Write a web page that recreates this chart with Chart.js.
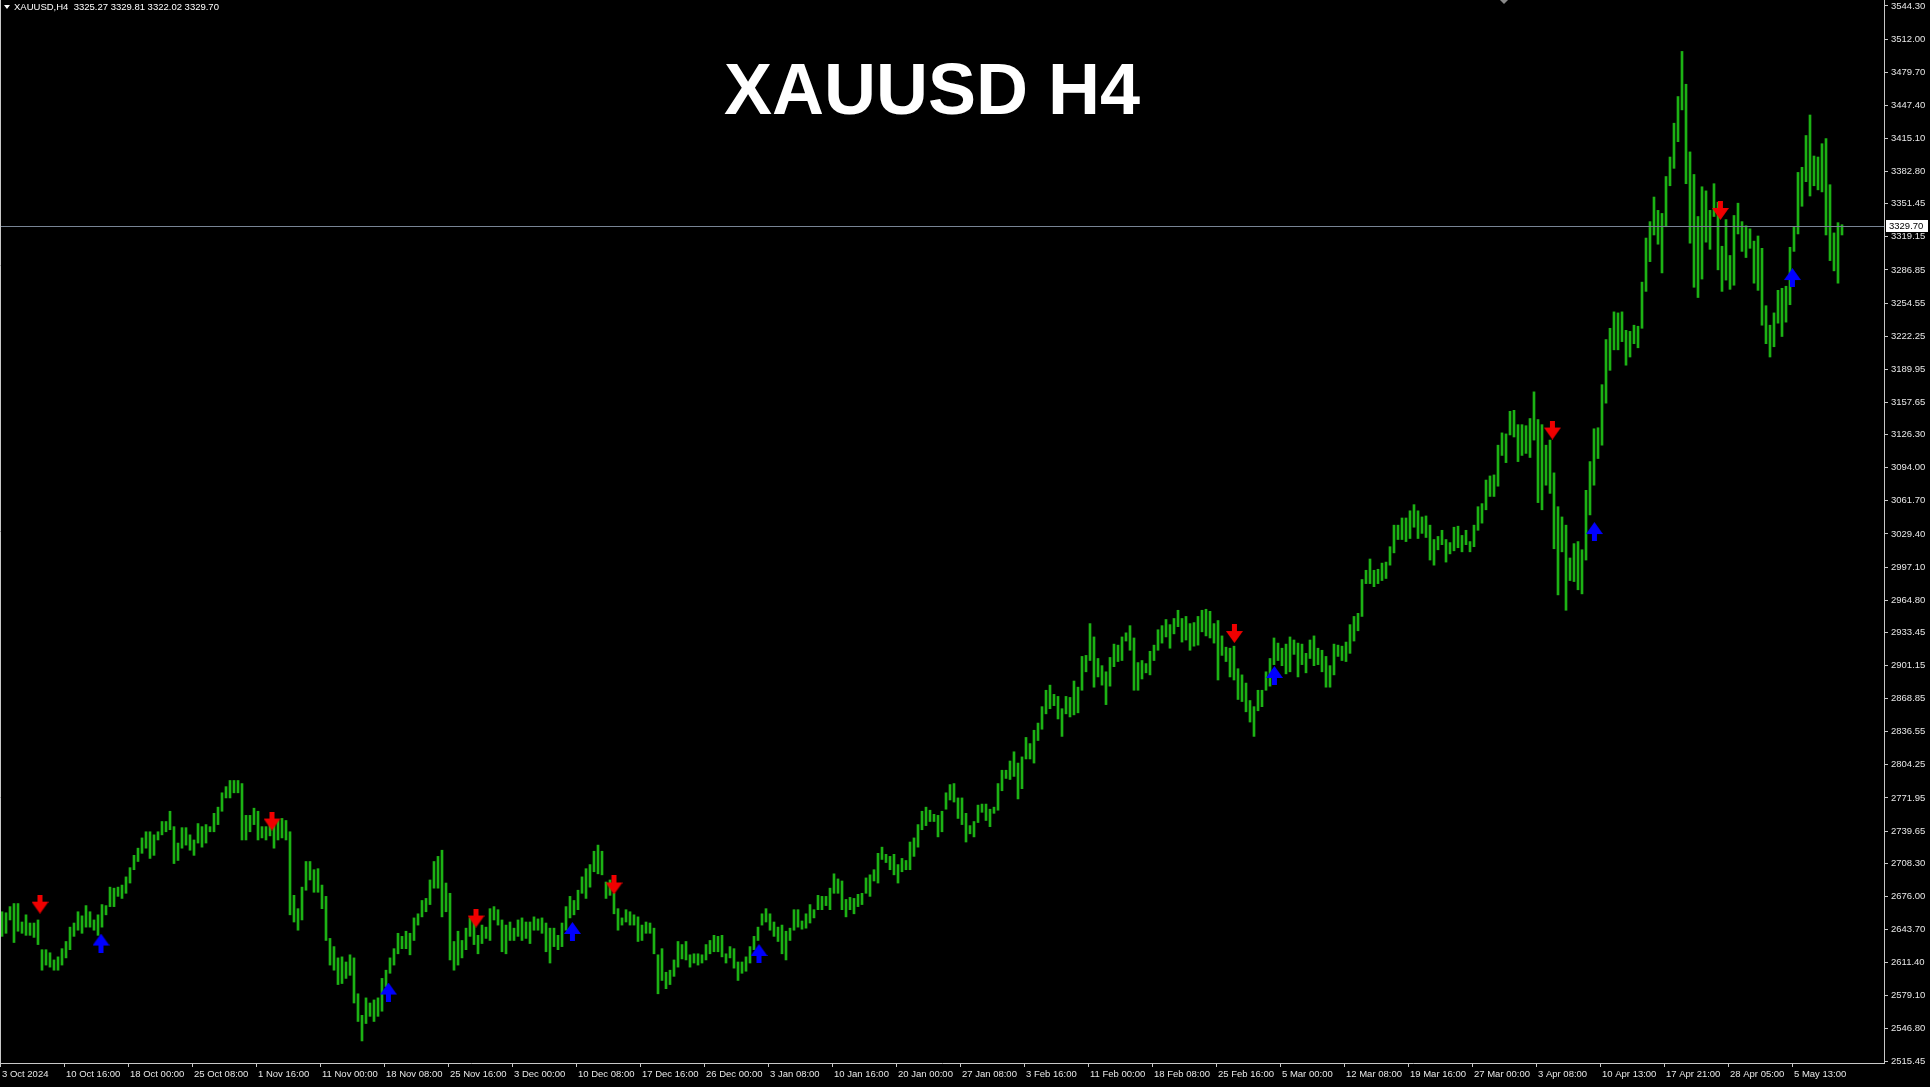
<!DOCTYPE html>
<html>
<head>
<meta charset="utf-8">
<title>XAUUSD H4</title>
<script src="https://cdn.jsdelivr.net/npm/chart.js@4.4.1/dist/chart.umd.min.js"></script>
<style>
  html, body { margin: 0; padding: 0; background: #000; overflow: hidden; }
  #wrap { width: 1930px; height: 1087px; position: relative; }
</style>
</head>
<body>
<div id="wrap"><canvas id="xau"></canvas></div>
<script>
var symbol = "XAUUSD,H4";
var chartTitle = "XAUUSD H4";
var lastOHLC = [3325.27, 3329.81, 3322.02, 3329.70];

var xLabels = ["3 Oct 2024", "10 Oct 16:00", "18 Oct 00:00", "25 Oct 08:00", "1 Nov 16:00",
  "11 Nov 00:00", "18 Nov 08:00", "25 Nov 16:00", "3 Dec 00:00", "10 Dec 08:00",
  "17 Dec 16:00", "26 Dec 00:00", "3 Jan 08:00", "10 Jan 16:00", "20 Jan 00:00",
  "27 Jan 08:00", "3 Feb 16:00", "11 Feb 00:00", "18 Feb 08:00", "25 Feb 16:00",
  "5 Mar 00:00", "12 Mar 08:00", "19 Mar 16:00", "27 Mar 00:00", "3 Apr 08:00",
  "10 Apr 13:00", "17 Apr 21:00", "28 Apr 05:00", "5 May 13:00"];

var yTicks = [3544.30, 3512.00, 3479.70, 3447.40, 3415.10, 3382.80, 3351.45, 3319.15,
  3286.85, 3254.55, 3222.25, 3189.95, 3157.65, 3126.30, 3094.00, 3061.70, 3029.40,
  2997.10, 2964.80, 2933.45, 2901.15, 2868.85, 2836.55, 2804.25, 2771.95, 2739.65,
  2708.30, 2676.00, 2643.70, 2611.40, 2579.10, 2546.80, 2515.45];

// one entry = two H4 bars
var highs = [
  2661,2660,2666,2669,2669,2651,2658,2650,2650,2653, 2624,2624,2621,2614,2617,2625,2632,2646,2650,2661,
  2657,2667,2661,2653,2658,2668,2667,2685,2684,2685, 2687,2695,2704,2716,2723,2733,2739,2739,2736,2739,
  2749,2749,2759,2744,2728,2743,2743,2736,2731,2747, 2744,2746,2744,2757,2763,2777,2783,2789,2789,2789,
  2786,2755,2755,2762,2759,2744,2744,2748,2745,2750, 2752,2750,2739,2677,2664,2685,2710,2710,2702,2703,
  2687,2676,2635,2627,2616,2617,2612,2619,2616,2581, 2560,2577,2572,2575,2577,2596,2604,2616,2625,2640,
  2637,2642,2640,2655,2659,2672,2674,2692,2710,2715, 2721,2689,2679,2632,2642,2633,2645,2655,2656,2638,
  2648,2646,2664,2666,2663,2653,2648,2651,2645,2653, 2655,2651,2651,2656,2654,2655,2650,2645,2645,2638,
  2650,2666,2676,2672,2682,2695,2703,2707,2720,2726, 2720,2690,2692,2679,2664,2655,2663,2661,2658,2656,
  2648,2651,2650,2645,2619,2625,2602,2604,2614,2632, 2629,2632,2619,2620,2620,2619,2629,2633,2638,2637,
  2638,2620,2627,2625,2612,2612,2617,2627,2637,2646, 2659,2664,2659,2651,2646,2648,2642,2645,2663,2663,
  2652,2659,2668,2663,2677,2676,2676,2684,2698,2693, 2691,2673,2675,2674,2678,2679,2694,2697,2702,2718,
  2724,2717,2715,2717,2707,2713,2711,2729,2733,2746, 2759,2763,2760,2756,2755,2759,2777,2785,2786,2772,
  2772,2757,2745,2749,2765,2766,2766,2761,2763,2786, 2799,2799,2808,2817,2806,2812,2831,2825,2838,2845,
  2861,2877,2882,2873,2871,2859,2871,2870,2886,2880, 2910,2911,2942,2929,2908,2901,2895,2909,2922,2921,
  2929,2933,2940,2928,2904,2906,2903,2915,2921,2936, 2940,2946,2941,2947,2955,2947,2949,2942,2943,2949,
  2955,2956,2954,2942,2945,2930,2919,2918,2920,2898, 2892,2884,2867,2861,2877,2877,2895,2908,2928,2923,
  2918,2922,2929,2926,2923,2922,2913,2926,2930,2918, 2916,2910,2901,2922,2921,2920,2924,2941,2949,2952,
  2985,2994,3005,2994,2995,3001,3002,3017,3038,3038, 3045,3045,3052,3058,3052,3046,3047,3038,3024,3027,
  3033,3024,3021,3036,3037,3028,3033,3022,3038,3056, 3059,3082,3086,3087,3116,3128,3127,3149,3150,3136,
  3136,3135,3142,3168,3141,3136,3116,3121,3089,3056, 3046,3038,3006,3020,3022,3014,3072,3100,3132,3133,
  3175,3219,3230,3246,3245,3246,3228,3227,3233,3232, 3275,3318,3334,3358,3345,3342,3378,3397,3430,3456,
  3500,3468,3402,3380,3339,3368,3364,3345,3371,3353, 3310,3336,3301,3340,3352,3334,3330,3327,3315,3320,
  3308,3252,3233,3245,3267,3269,3271,3309,3329,3382, 3387,3418,3438,3398,3397,3410,3415,3370,3323,3333,
  3331];

var lows = [
  2637,2640,2653,2631,2642,2640,2638,2638,2636,2629, 2604,2609,2607,2604,2604,2609,2616,2624,2637,2643,
  2640,2646,2646,2643,2638,2646,2658,2666,2666,2676, 2674,2679,2689,2702,2710,2718,2723,2713,2716,2731,
  2736,2739,2741,2708,2711,2723,2726,2721,2716,2728, 2724,2728,2739,2739,2746,2759,2772,2772,2777,2777,
  2731,2731,2739,2746,2731,2733,2731,2735,2723,2731, 2733,2731,2658,2651,2643,2653,2682,2692,2680,2680,
  2664,2633,2609,2604,2590,2591,2596,2599,2572,2554, 2535,2552,2559,2554,2559,2564,2588,2601,2609,2620,
  2625,2625,2619,2633,2648,2656,2661,2668,2684,2684, 2656,2661,2614,2604,2609,2616,2624,2637,2629,2620,
  2630,2635,2633,2653,2648,2622,2620,2633,2633,2637, 2633,2635,2630,2643,2643,2640,2622,2611,2627,2624,
  2627,2643,2655,2658,2663,2679,2674,2685,2700,2698, 2697,2674,2677,2659,2643,2648,2651,2648,2648,2632,
  2633,2640,2640,2620,2581,2594,2586,2590,2598,2607, 2615,2614,2607,2611,2609,2611,2614,2620,2622,2622,
  2617,2611,2616,2606,2594,2601,2603,2611,2624,2633, 2648,2651,2643,2637,2632,2620,2614,2633,2643,2646,
  2644,2645,2650,2655,2663,2663,2667,2663,2679,2679, 2663,2656,2663,2659,2666,2668,2679,2676,2691,2689,
  2712,2709,2702,2697,2689,2700,2702,2702,2715,2724, 2741,2745,2749,2749,2734,2739,2761,2770,2768,2752,
  2746,2729,2737,2734,2748,2758,2750,2744,2757,2760, 2779,2791,2790,2793,2771,2781,2810,2810,2806,2828,
  2839,2854,2859,2862,2849,2832,2854,2851,2853,2855, 2877,2895,2906,2880,2890,2882,2863,2881,2900,2905,
  2906,2925,2916,2877,2877,2888,2894,2892,2906,2916, 2923,2929,2918,2932,2939,2924,2926,2916,2920,2921,
  2934,2930,2928,2923,2887,2911,2905,2890,2887,2868, 2866,2856,2846,2832,2857,2861,2877,2881,2902,2906,
  2901,2893,2895,2912,2890,2902,2894,2908,2901,2902, 2895,2880,2880,2892,2910,2906,2905,2913,2925,2935,
  2949,2981,2981,2978,2981,2984,2986,2999,3011,3024, 3024,3022,3025,3036,3025,3030,3026,3004,2999,3014,
  3019,3002,3010,3013,3016,3012,3019,3012,3017,3033, 3040,3053,3066,3066,3076,3106,3099,3126,3124,3100,
  3106,3108,3104,3121,3060,3053,3077,3069,3015,2970, 3012,2955,2984,2983,2975,2971,3004,3048,3077,3103,
  3116,3157,3189,3209,3209,3217,3194,3202,3215,3211, 3230,3266,3295,3321,3312,3284,3329,3369,3386,3412,
  3443,3371,3313,3270,3260,3278,3314,3307,3339,3287, 3266,3277,3268,3272,3322,3305,3299,3308,3274,3267,
  3233,3215,3202,3212,3235,3222,3236,3253,3305,3322, 3349,3373,3359,3369,3365,3363,3321,3296,3286,3274,
  3321];

// signal arrows (x in entry units)
var sellX = [10.0, 68.0, 119.0, 153.5, 308.6, 388.1, 430.1];
var sellY = [2668.4, 2749.5, 2654.9, 2687.1, 2932.3, 3130.8, 3344.9];
var buyX = [25.25, 97.1, 143.1, 189.75, 318.6, 398.6, 448.1];
var buyY = [2630.5, 2582.7, 2641.8, 2620.3, 2891.4, 3031.8, 3279.5];

var shiftMark = 376;

function arrowImage(color, down) {
  var c = document.createElement('canvas');
  c.width = 17; c.height = 19;
  var g = c.getContext('2d');
  g.fillStyle = color;
  if (down) {
    g.fillRect(6, 0, 5, 9);
    g.beginPath(); g.moveTo(0, 7); g.lineTo(17, 7); g.lineTo(8.5, 19); g.closePath(); g.fill();
  } else {
    g.fillRect(6, 10, 5, 9);
    g.beginPath(); g.moveTo(8.5, 0); g.lineTo(17, 12); g.lineTo(0, 12); g.closePath(); g.fill();
  }
  return c;
}

var font = '"Liberation Sans", Arial, sans-serif';

function noPad(scale) {
  scale.paddingTop = 0; scale.paddingBottom = 0;
  scale.paddingLeft = 0; scale.paddingRight = 0;
}

var mtDecor = {
  id: 'mtDecor',
  afterDatasetsDraw: function(chart) {
    var ctx = chart.ctx, a = chart.chartArea;
    var py = Math.round(chart.scales.y.getPixelForValue(lastOHLC[3])) + 0.5;
    ctx.save();
    ctx.strokeStyle = 'rgb(120,132,148)';
    ctx.lineWidth = 1;
    ctx.beginPath(); ctx.moveTo(a.left, py); ctx.lineTo(a.right, py); ctx.stroke();
    ctx.restore();
  },
  afterDraw: function(chart) {
    var ctx = chart.ctx, a = chart.chartArea;
    ctx.save();
    // left frame
    ctx.strokeStyle = '#c8c8c8';
    ctx.lineWidth = 1;
    ctx.beginPath(); ctx.moveTo(0.5, 0); ctx.lineTo(0.5, a.bottom); ctx.stroke();

    // chart shift marker
    var sx = Math.round(chart.scales.x.getPixelForValue(shiftMark));
    ctx.fillStyle = '#8a8a8a';
    ctx.beginPath(); ctx.moveTo(sx - 4, 0); ctx.lineTo(sx + 4, 0); ctx.lineTo(sx, 4); ctx.closePath(); ctx.fill();

    // header
    ctx.fillStyle = '#ffffff';
    ctx.beginPath(); ctx.moveTo(4, 5); ctx.lineTo(10, 5); ctx.lineTo(7, 9); ctx.closePath(); ctx.fill();
    ctx.font = '9.5px ' + font;
    ctx.textBaseline = 'middle';
    ctx.textAlign = 'left';
    ctx.fillText(symbol + '  ' + lastOHLC.map(function(v){ return v.toFixed(2); }).join(' '), 14, 7);

    // title
    ctx.font = 'bold 72px ' + font;
    ctx.textAlign = 'center';
    ctx.textBaseline = 'alphabetic';
    ctx.fillText(chartTitle, 932, 114);

    // current price box
    var py = Math.round(chart.scales.y.getPixelForValue(lastOHLC[3]));
    ctx.fillStyle = '#ffffff';
    ctx.fillRect(a.right + 2, py - 6, 42, 12);
    ctx.fillStyle = '#000000';
    ctx.font = '9.5px ' + font;
    ctx.textAlign = 'left';
    ctx.textBaseline = 'middle';
    ctx.fillText(lastOHLC[3].toFixed(2), a.right + 5, py + 0.5);
    ctx.restore();
  }
};

var barData = highs.map(function(h, i) { return {x: i + 0.5, y: [lows[i], h]}; });
var sellData = sellX.map(function(x, i) { return {x: x, y: sellY[i]}; });
var buyData = buyX.map(function(x, i) { return {x: x, y: buyY[i]}; });

new Chart(document.getElementById('xau').getContext('2d'), {
  type: 'bar',
  data: {
    datasets: [
      {
        type: 'scatter', label: 'sell', data: sellData, order: 1,
        pointStyle: arrowImage('rgb(240,0,0)', true), pointRadius: 9
      },
      {
        type: 'scatter', label: 'buy', data: buyData, order: 1,
        pointStyle: arrowImage('rgb(0,0,255)', false), pointRadius: 9
      },
      {
        type: 'bar', label: 'XAUUSD', data: barData, order: 2,
        backgroundColor: 'rgb(28,178,20)', borderWidth: 0, barThickness: 2
      }
    ]
  },
  options: {
    responsive: true,
    maintainAspectRatio: false,
    animation: false,
    events: [],
    layout: { padding: 0, autoPadding: false },
    plugins: { legend: { display: false }, tooltip: { enabled: false }, title: { display: false } },
    scales: {
      x: {
        type: 'linear', min: 0, max: 471, offset: false,
        afterBuildTicks: function(scale) {
          scale.ticks = xLabels.map(function(_, k) { return {value: k * 16}; });
        },
        afterFit: function(scale) { scale.height = 24; noPad(scale); },
        grid: { offset: false, drawOnChartArea: false, drawTicks: true, tickLength: 4, color: '#c8c8c8' },
        border: { display: true, color: '#c8c8c8', width: 1 },
        ticks: {
          autoSkip: false, maxRotation: 0, minRotation: 0, align: 'start', padding: 2, labelOffset: 2,
          color: '#e6e6e6', font: { family: font, size: 9.5 },
          callback: function(v) { return xLabels[Math.round(v / 16)]; }
        }
      },
      y: {
        type: 'linear', position: 'right', min: 2513.5, max: 3550.15,
        afterBuildTicks: function(scale) {
          scale.ticks = yTicks.map(function(v) { return {value: v}; });
        },
        afterFit: function(scale) { scale.width = 46; noPad(scale); },
        grid: { drawOnChartArea: false, drawTicks: true, tickLength: 4, color: '#c8c8c8' },
        border: { display: true, color: '#c8c8c8', width: 1 },
        ticks: {
          autoSkip: false, padding: 3,
          color: '#e6e6e6', font: { family: font, size: 9.5 },
          callback: function(v) { return Number(v).toFixed(2); }
        }
      }
    }
  },
  plugins: [mtDecor]
});
</script>
</body>
</html>
